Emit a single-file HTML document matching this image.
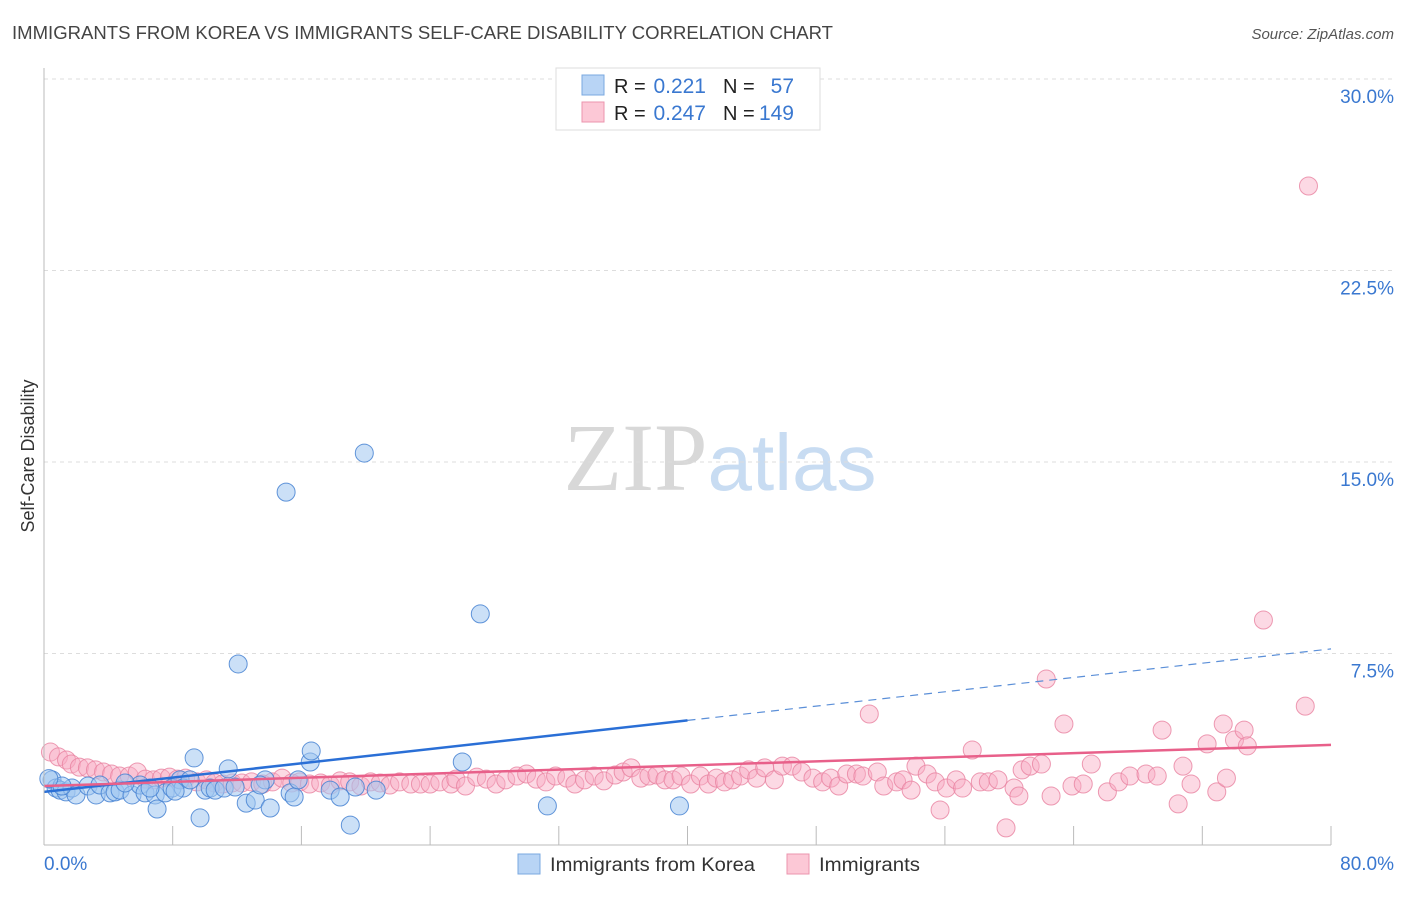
<!DOCTYPE html>
<html><head><meta charset="utf-8"><style>
body{margin:0;background:#fff;font-family:"Liberation Sans",sans-serif;}
svg text{font-family:"Liberation Sans",sans-serif;}
</style></head><body>
<svg id="chart" width="1406" height="892" xmlns="http://www.w3.org/2000/svg">
<text x="12" y="39" font-size="18.5" fill="#444" textLength="821" lengthAdjust="spacingAndGlyphs">IMMIGRANTS FROM KOREA VS IMMIGRANTS SELF-CARE DISABILITY CORRELATION CHART</text>
<text x="1394" y="39" font-size="15" fill="#555" text-anchor="end" font-style="italic">Source: ZipAtlas.com</text>
<text x="720" y="490" text-anchor="middle" font-size="96"><tspan font-family="Liberation Serif" fill="#d8d8d8">ZIP</tspan><tspan fill="#c8dcf2" font-size="80">atlas</tspan></text>
<text transform="translate(34,456) rotate(-90)" text-anchor="middle" font-size="18" fill="#333">Self-Care Disability</text>
<g id="grid"></g><g id="pink"></g><g id="blue"></g><g id="lines"></g>
<line x1="44" y1="68" x2="44" y2="845" stroke="#bbb"/>
<line x1="44" y1="845" x2="1331" y2="845" stroke="#bbb"/>
<text x="44" y="870" font-size="19" fill="#3a78d0">0.0%</text>
<text x="1394" y="870" font-size="19" fill="#3a78d0" text-anchor="end">80.0%</text>
<g>
<rect x="556" y="68" width="264" height="62" fill="#fff" stroke="#ddd"/>
<rect x="582" y="75" width="22" height="20" fill="#b8d4f5" stroke="#7aa8e0"/>
<rect x="582" y="102" width="22" height="20" fill="#fcc8d6" stroke="#eb94ae"/>
<text x="614" y="93" font-size="20" fill="#222">R =</text>
<text x="706" y="93" font-size="21" fill="#3a78d0" text-anchor="end">0.221</text>
<text x="723" y="93" font-size="20" fill="#222">N =</text>
<text x="794" y="93" font-size="21" fill="#3a78d0" text-anchor="end">57</text>
<text x="614" y="120" font-size="20" fill="#222">R =</text>
<text x="706" y="120" font-size="21" fill="#3a78d0" text-anchor="end">0.247</text>
<text x="723" y="120" font-size="20" fill="#222">N =</text>
<text x="794" y="120" font-size="21" fill="#3a78d0" text-anchor="end">149</text>
</g>
<g>
<rect x="518" y="854" width="22" height="20" fill="#b8d4f5" stroke="#7aa8e0"/>
<text x="550" y="871" font-size="19" fill="#333" textLength="205" lengthAdjust="spacingAndGlyphs">Immigrants from Korea</text>
<rect x="787" y="854" width="22" height="20" fill="#fcc8d6" stroke="#eb94ae"/>
<text x="819" y="871" font-size="19" fill="#333" textLength="101" lengthAdjust="spacingAndGlyphs">Immigrants</text>
</g>
</svg>
<script>
const yTicks=[7.5,15,22.5,30];
const xTicks=[0,8,16,24,32,40,48,56,64,72,80];
const blueX=[0.5,0.75,1.0,1.37,1.74,1.99,2.74,3.24,3.48,4.11,4.42,4.73,5.47,5.97,6.28,6.91,7.03,7.53,7.96,8.46,8.65,9.33,9.7,10.02,10.33,10.64,11.2,11.45,12.07,12.57,13.13,13.75,14.06,15.05,15.3,15.55,15.8,16.55,16.61,17.79,18.41,19.04,19.35,19.91,20.65,26.0,27.12,31.29,39.5,1.12,5.04,6.59,8.15,9.08,11.88,13.44,0.3];
const blueY=[2.55,2.23,2.15,2.08,2.23,1.96,2.31,1.96,2.35,2.04,2.08,2.15,1.96,2.35,2.04,1.96,1.41,2.04,2.23,2.55,2.23,3.41,1.06,2.15,2.23,2.15,2.23,2.98,7.09,1.64,1.76,2.55,1.45,13.82,2.04,1.88,2.55,3.25,3.68,2.15,1.88,0.78,2.27,15.35,2.15,3.25,9.05,1.53,1.53,2.31,2.43,2.23,2.11,2.55,2.27,2.35,2.6];
const pinkX=[0.4,0.9,1.4,1.7,2.2,2.7,3.2,3.7,4.2,4.7,5.3,5.8,6.3,6.8,7.3,7.8,8.3,8.8,9.5,10.1,10.6,11.1,11.7,12.3,12.9,13.6,14.2,14.8,15.4,15.9,16.5,17.2,17.8,18.4,19.0,19.7,20.3,20.9,21.5,22.1,22.8,23.4,24.0,24.6,25.3,25.6,26.2,26.9,27.5,28.1,28.7,29.4,30.0,30.6,31.2,31.8,32.5,33.0,33.6,34.2,34.8,35.5,36.0,36.5,37.1,37.6,38.1,38.6,39.1,39.6,40.2,40.8,41.3,41.8,42.3,42.8,43.3,43.8,44.3,44.8,45.4,45.9,46.5,47.1,47.8,48.4,48.9,49.4,49.9,50.5,50.9,51.3,51.8,52.2,53.0,53.4,53.9,54.2,54.9,55.4,56.1,56.7,57.1,57.7,58.2,58.7,59.3,60.3,60.6,60.8,61.3,62.0,62.3,62.6,63.4,63.9,64.6,65.1,66.1,66.8,67.5,68.5,69.2,69.5,70.5,70.8,71.3,72.3,72.9,73.3,73.5,74.0,74.6,74.8,75.8,78.4,78.6,59.8,55.7];
const pinkY=[3.64,3.45,3.33,3.17,3.05,3.02,2.94,2.86,2.78,2.70,2.70,2.86,2.58,2.55,2.62,2.66,2.58,2.62,2.47,2.55,2.43,2.39,2.43,2.43,2.47,2.39,2.47,2.62,2.43,2.47,2.39,2.43,2.35,2.51,2.47,2.31,2.47,2.43,2.35,2.47,2.39,2.39,2.39,2.47,2.39,2.58,2.31,2.66,2.58,2.39,2.55,2.70,2.78,2.58,2.47,2.70,2.62,2.39,2.55,2.70,2.51,2.74,2.86,3.02,2.62,2.70,2.74,2.55,2.55,2.70,2.39,2.70,2.39,2.62,2.47,2.55,2.70,2.94,2.62,3.02,2.55,3.09,3.09,2.86,2.62,2.47,2.62,2.31,2.78,2.78,2.70,5.13,2.86,2.31,2.47,2.55,2.15,3.09,2.78,2.47,2.23,2.55,2.23,3.72,2.47,2.47,2.55,2.23,1.92,2.94,3.09,3.17,6.50,1.92,4.74,2.31,2.39,3.17,2.08,2.47,2.70,2.78,2.70,4.50,1.61,3.09,2.39,3.96,2.08,4.74,2.62,4.11,4.50,3.88,8.81,5.44,25.81,0.67,1.37];
const blueTrend=[2.08,7.68];
const blueSolidEnd=40;
const pinkTrend=[2.31,3.92];
const NS="http://www.w3.org/2000/svg";
const sx=v=>44+v/80*1287;
const sy=v=>845-v/7.5*191.5;
function mk(t,a,p){const e=document.createElementNS(NS,t);for(const k in a)e.setAttribute(k,a[k]);p.appendChild(e);return e;}
const grid=document.getElementById('grid');
yTicks.forEach(t=>{
 const l=mk('line',{x1:44,x2:1394,y1:sy(t),y2:sy(t),stroke:'#ddd','stroke-dasharray':'4,4'},grid);
 
 
 const tx=mk('text',{x:1394,y:sy(t)+24,'text-anchor':'end','font-size':19,fill:'#3a78d0'},grid);
 tx.textContent=t.toFixed(1)+'%';
 
 
});
xTicks.slice(1).forEach(t=>{
 const l=mk('line',{x1:sx(t),x2:sx(t),y1:826,y2:845,stroke:'#bbb'},grid);
 
 
});
const pg=document.getElementById('pink');
pinkX.forEach((x,i)=>{
 const c=mk('circle',{cx:sx(x),cy:sy(pinkY[i]),r:9,fill:'rgba(248,170,195,0.45)',stroke:'rgba(232,130,160,0.8)','stroke-width':1},pg);
 
 
});
const bg=document.getElementById('blue');
blueX.forEach((x,i)=>{
 const c=mk('circle',{cx:sx(x),cy:sy(blueY[i]),r:9,fill:'rgba(160,198,240,0.55)',stroke:'rgba(70,130,210,0.85)','stroke-width':1},bg);
 
 
});
const lg=document.getElementById('lines');
const bAt=x=>blueTrend[0]+(blueTrend[1]-blueTrend[0])*x/80;
const b1=mk('line',{x1:sx(0),y1:sy(bAt(0)),x2:sx(blueSolidEnd),y2:sy(bAt(blueSolidEnd)),stroke:'#2a6fd6','stroke-width':2.5},lg);


const b2=mk('line',{x1:sx(blueSolidEnd),y1:sy(bAt(blueSolidEnd)),x2:sx(80),y2:sy(bAt(80)),stroke:'#5b8fd8','stroke-width':1.2,'stroke-dasharray':'8,6'},lg);


const p1=mk('line',{x1:sx(0),y1:sy(pinkTrend[0]),x2:sx(80),y2:sy(pinkTrend[1]),stroke:'#e8608a','stroke-width':2.5},lg);


</script>
</body></html>
